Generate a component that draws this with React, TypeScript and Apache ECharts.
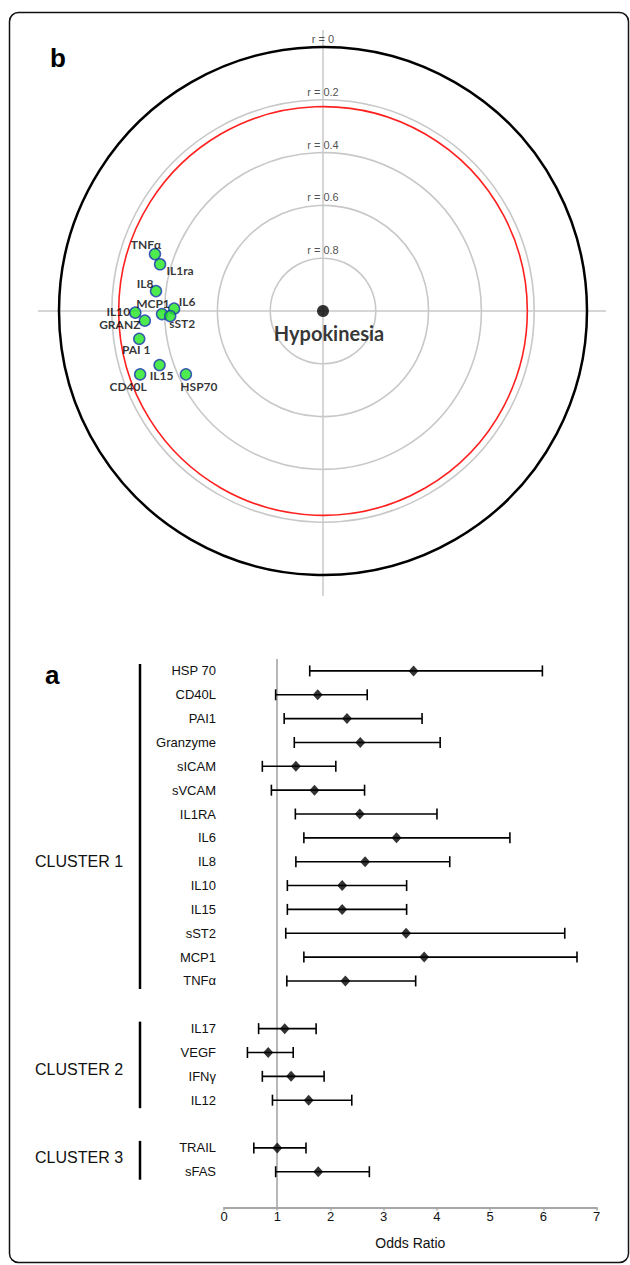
import React, { useEffect, useRef } from "react";
import * as echarts from "echarts";

// ---------- Panel b (polar correlation plot) ----------
const rTicks = [0, 0.2, 0.4, 0.6, 0.8];
const SIG_R = 0.226; // red significance circle
const markerNames = ["TNFα", "IL1ra", "IL8", "IL6", "MCP1", "sST2", "IL10", "GRANZ", "PAI 1", "IL15", "CD40L", "HSP70"];
const markerR = [0.328, 0.358, 0.363, 0.436, 0.39, 0.421, 0.289, 0.324, 0.296, 0.348, 0.267, 0.428];
const markerAngle = [161.3, 164.0, 173.2, 179.1, 181.1, 181.9, 180.5, 183.1, 188.6, 198.3, 199.1, 204.8];
const centerName = "Hypokinesia";

// ---------- Panel a (forest plot) ----------
const forestLabels = ["HSP 70", "CD40L", "PAI1", "Granzyme", "sICAM", "sVCAM", "IL1RA", "IL6", "IL8", "IL10", "IL15", "sST2", "MCP1", "TNFα", "IL17", "VEGF", "IFNγ", "IL12", "TRAIL", "sFAS"];
const oddsRatio = [3.56, 1.76, 2.31, 2.56, 1.35, 1.7, 2.55, 3.24, 2.65, 2.22, 2.22, 3.42, 3.76, 2.28, 1.14, 0.83, 1.26, 1.59, 1.0, 1.77];
const ciLow = [1.61, 0.97, 1.13, 1.32, 0.72, 0.89, 1.34, 1.5, 1.35, 1.19, 1.19, 1.16, 1.5, 1.18, 0.65, 0.44, 0.72, 0.91, 0.56, 0.97];
const ciHigh = [5.98, 2.69, 3.72, 4.06, 2.1, 2.64, 4.0, 5.37, 4.24, 3.43, 3.43, 6.4, 6.63, 3.6, 1.73, 1.3, 1.88, 2.4, 1.54, 2.73];
const clusterNames = ["CLUSTER 1", "CLUSTER 2", "CLUSTER 3"];
const clusterSizes = [14, 4, 2];
const clusterLabelRow = [8, 1.7, 0.4]; // row (within cluster) where the cluster name sits
const xTicksMax = 7;

// layout-only constants
const labelOffsets: number[][] = [[-9, -10], [20, 6], [-11, -8], [13, -7], [-9, -11], [12, 7], [-17, -1], [-25, 4], [-3, 11], [2, 10], [-12, 12], [13, 12]];
const CX = 323, CY = 311, R0 = 264;

// build category slots with blank rows between clusters
const yCats: string[] = [];
const slotOf: number[] = [];
const clusterRanges: number[][] = [];
{
  let k = 0;
  clusterSizes.forEach((n, ci) => {
    const first = yCats.length;
    for (let i = 0; i < n; i++) {
      slotOf.push(yCats.length);
      yCats.push(forestLabels[k++]);
    }
    const last = yCats.length - 1;
    clusterRanges.push([0, first, last, clusterLabelRow[ci]]);
    yCats.push(" ".repeat(ci + 1));
  });
}

const SANS = "'Liberation Sans', Arial, sans-serif";
const HUMAN = "Lato, 'Open Sans', sans-serif";

export default function App() {
  const ref = useRef<HTMLDivElement>(null);
  useEffect(() => {
    document.body.style.margin = "0";
    const chart = echarts.init(ref.current!, null, { renderer: "svg" });
    const option: any = {
      animation: false,
      backgroundColor: "#ffffff",
      polar: [
        { center: [CX, CY], radius: R0 },
        { center: [CX, CY], radius: R0 * (1 - SIG_R) },
      ],
      angleAxis: [
        {
          polarIndex: 0, type: "value", min: 0, max: 360, startAngle: 0, clockwise: false,
          axisLine: { show: true, lineStyle: { color: "#000", width: 2.5 } },
          axisTick: { show: false }, axisLabel: { show: false }, splitLine: { show: false },
          z: 5,
        },
        {
          polarIndex: 1, type: "value", min: 0, max: 360, startAngle: 0, clockwise: false,
          axisLine: { show: true, lineStyle: { color: "#ff2020", width: 1.6 } },
          axisTick: { show: false }, axisLabel: { show: false }, splitLine: { show: false },
        },
      ],
      radiusAxis: [
        {
          polarIndex: 0, type: "value", min: 0, max: 1, interval: 0.2, inverse: true,
          axisLine: { show: false }, axisTick: { show: false }, axisLabel: { show: false },
          splitLine: { show: true, lineStyle: { color: ["rgba(0,0,0,0)", "#c8c8c8", "#c8c8c8", "#c8c8c8", "#c8c8c8", "#c8c8c8"], width: 1.6 } },
        },
        {
          polarIndex: 1, type: "value", min: 0, max: 1,
          axisLine: { show: false }, axisTick: { show: false }, axisLabel: { show: false }, splitLine: { show: false },
        },
      ],
      grid: { left: 224, right: 630 - 596.7, top: 659, height: 548.5, containLabel: false },
      xAxis: {
        type: "value", min: 0, max: xTicksMax, interval: 1,
        axisLine: { show: true, lineStyle: { color: "#a6a6a6", width: 2 } },
        axisTick: { show: true, length: 3, lineStyle: { color: "#a6a6a6", width: 1.5 } },
        axisLabel: { color: "#111", fontSize: 13, fontFamily: SANS, margin: 2 },
        splitLine: { show: false },
        name: "Odds Ratio", nameLocation: "middle", nameGap: 28,
        nameTextStyle: { color: "#111", fontSize: 14, fontFamily: SANS },
      },
      yAxis: {
        type: "category", data: yCats, inverse: true,
        axisLine: { show: false }, axisTick: { show: false }, splitLine: { show: false },
        axisLabel: { interval: 0, color: "#111", fontSize: 13, fontFamily: SANS, margin: 8 },
      },
      graphic: [
        { type: "rect", shape: { x: 9.5, y: 12.5, width: 619, height: 1250, r: 9 }, style: { fill: "none", stroke: "#111", lineWidth: 1.5 }, silent: true },
        { type: "line", shape: { x1: 38, y1: CY, x2: 606, y2: CY }, style: { stroke: "#c8c8c8", lineWidth: 1.5 }, z: -1, silent: true },
        { type: "line", shape: { x1: CX, y1: 30, x2: CX, y2: 596 }, style: { stroke: "#c8c8c8", lineWidth: 1.5 }, z: -1, silent: true },
        { type: "text", style: { text: "b", x: 50, y: 58, font: "bold 26px " + SANS, fill: "#000", textAlign: "left", textVerticalAlign: "middle" } },
        { type: "text", style: { text: "a", x: 45, y: 675, font: "bold 26px " + SANS, fill: "#000", textAlign: "left", textVerticalAlign: "middle" } },
      ],
      series: [
        // r = labels
        {
          type: "scatter", coordinateSystem: "polar", polarIndex: 0, silent: true,
          data: rTicks.map((r) => [r, 90]),
          symbolSize: 1, itemStyle: { color: "rgba(0,0,0,0)" },
          label: {
            show: true, position: "top", distance: 2,
            formatter: (p: any) => "r = " + p.value[0],
            color: "#222", fontSize: 11, fontFamily: "'Liberation Sans Narrow', " + SANS,
          },
          z: 6,
        },
        // center point
        {
          type: "scatter", coordinateSystem: "polar", polarIndex: 0, silent: true,
          data: [{ value: [1, 0], name: centerName }],
          symbolSize: 12, itemStyle: { color: "#000" },
          label: {
            show: true, position: "inside", offset: [6, 22], formatter: "{b}",
            color: "#000", fontSize: 20, fontWeight: "bold", fontFamily: HUMAN,
          },
          z: 6,
        },
        // markers
        {
          type: "scatter", coordinateSystem: "polar", polarIndex: 0, silent: true,
          data: markerNames.map((n, i) => ({
            name: n, value: [markerR[i], markerAngle[i]],
            label: { offset: labelOffsets[i] },
          })),
          symbol: "circle", symbolSize: 11,
          itemStyle: { color: "#22e622", borderColor: "#1a35b0", borderWidth: 1.5 },
          label: {
            show: true, position: "inside", formatter: "{b}",
            color: "#000", fontSize: 12, fontWeight: "bold", fontFamily: HUMAN,
          },
          z: 7,
        },
        // forest whiskers
        {
          type: "custom", coordinateSystem: "cartesian2d", silent: true,
          data: forestLabels.map((_, i) => [ciLow[i], slotOf[i], ciHigh[i]]),
          encode: { x: 0, y: 1 },
          renderItem: (params: any, api: any) => {
            const slot = api.value(1);
            const p1 = api.coord([api.value(0), slot]);
            const p2 = api.coord([api.value(2), slot]);
            const h = 5.5;
            const st = { stroke: "#000", lineWidth: 1.6 };
            return {
              type: "group",
              children: [
                { type: "line", shape: { x1: p1[0], y1: p1[1], x2: p2[0], y2: p2[1] }, style: st },
                { type: "line", shape: { x1: p1[0], y1: p1[1] - h, x2: p1[0], y2: p1[1] + h }, style: st },
                { type: "line", shape: { x1: p2[0], y1: p2[1] - h, x2: p2[0], y2: p2[1] + h }, style: st },
              ],
            };
          },
          z: 3,
        },
        // odds ratio points (+ reference line at OR = 1)
        {
          type: "scatter", silent: true,
          data: forestLabels.map((_, i) => [oddsRatio[i], slotOf[i]]),
          symbol: "diamond", symbolSize: [10, 11],
          itemStyle: { color: "#000" },
          markLine: {
            silent: true, symbol: "none", label: { show: false },
            lineStyle: { color: "#a0a0a0", width: 1.5, type: "solid" },
            data: [{ xAxis: 1 }],
            z: 1,
          },
          z: 4,
        },
        // cluster brackets
        {
          type: "custom", coordinateSystem: "cartesian2d", silent: true,
          data: clusterRanges,
          encode: { x: 0, y: 1 },
          renderItem: (params: any, api: any) => {
            const first = api.value(1), last = api.value(2), lab = api.value(3);
            const yF = api.coord([0, first])[1];
            const yL = api.coord([0, last])[1];
            const step = api.size([0, 1])[1];
            const yLab = yF + lab * step;
            return {
              type: "group",
              children: [
                { type: "line", shape: { x1: 140, y1: yF - 7, x2: 140, y2: yL + 8 }, style: { stroke: "#000", lineWidth: 2.5 } },
                {
                  type: "text",
                  style: {
                    text: clusterNames[params.dataIndex], x: 35, y: yLab,
                    font: "16px " + SANS, fill: "#111",
                    textAlign: "left", textVerticalAlign: "middle",
                  },
                },
              ],
            };
          },
          z: 3,
        },
      ],
    };
    chart.setOption(option);
    return () => chart.dispose();
  }, []);
  return <div ref={ref} style={{ width: 630, height: 1265 }} />;
}
